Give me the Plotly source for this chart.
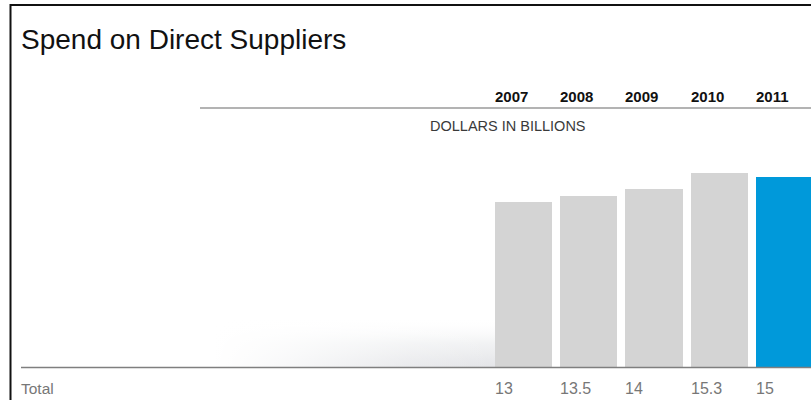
import plotly.graph_objects as go

# ---- data ----
years = ["2007", "2008", "2009", "2010", "2011"]
values = [13, 13.5, 14, 15.3, 15]
value_labels = ["13", "13.5", "14", "15.3", "15"]
bar_colors = ["#d4d4d4", "#d4d4d4", "#d4d4d4", "#d4d4d4", "#0099da"]
title_text = "Spend on Direct Suppliers"
unit_text = "DOLLARS IN BILLIONS"
row_label = "Total"

W, H = 811, 400
SANS = "Liberation Sans, Arial, sans-serif"

# geometry (pixels)
first_center = 523.5
step = 65.25
base_px = 367
px_per_unit = 12.7
bar_w = 0.874

fig = go.Figure()

# bars on the base axes
fig.add_trace(go.Bar(
    x=years, y=values, marker=dict(color=bar_colors, line=dict(width=0)),
    width=bar_w, showlegend=False, xaxis="x", yaxis="y",
    hovertemplate="%{x}: %{y}<extra></extra>"))

# decorative soft shadow (pixel-space overlay axes)
fig.add_trace(go.Scatter(
    x=[215, 495, 495, 215, 215], y=[318, 318, 367, 367, 318], mode="lines",
    line=dict(width=0), fill="toself",
    fillgradient=dict(type="vertical",
                      colorscale=[[0, "#e4e5e8"], [0.5, "#f2f3f4"], [1, "rgba(255,255,255,0)"]]),
    hoverinfo="skip", showlegend=False, xaxis="x2", yaxis="y2"))
fig.add_trace(go.Scatter(
    x=[214, 494, 494, 214, 214], y=[317, 317, 368, 368, 317], mode="lines",
    line=dict(width=0), fill="toself",
    fillgradient=dict(type="horizontal",
                      colorscale=[[0, "rgba(255,255,255,1)"], [0.25, "rgba(255,255,255,0.75)"],
                                  [0.7, "rgba(255,255,255,0.2)"], [1, "rgba(255,255,255,0)"]]),
    hoverinfo="skip", showlegend=False, xaxis="x2", yaxis="y2"))

n = len(years)
x_lo = -first_center / step
x_hi = (W - first_center) / step

fig.update_layout(
    width=W, height=H,
    margin=dict(l=0, r=0, t=0, b=0),
    paper_bgcolor="white", plot_bgcolor="white",
    xaxis=dict(type="category", range=[x_lo, x_hi], domain=[0, 1],
               visible=False, fixedrange=True),
    yaxis=dict(range=[0, base_px / px_per_unit], domain=[(H - base_px) / H, 1],
               visible=False, fixedrange=True),
    xaxis2=dict(range=[0, W], overlaying="x", visible=False, fixedrange=True),
    yaxis2=dict(range=[base_px, 0], overlaying="y", visible=False, fixedrange=True),
    bargap=0,
)

def px_x(p):
    return p / W

def px_y(p):
    return 1 - p / H

shapes = [
    # frame
    dict(type="line", xref="paper", yref="paper", x0=px_x(10), x1=1.01,
         y0=px_y(5), y1=px_y(5), line=dict(color="#111", width=2)),
    dict(type="line", xref="paper", yref="paper", x0=px_x(10.5), x1=px_x(10.5),
         y0=px_y(4), y1=-0.01, line=dict(color="#111", width=2)),
    # header rule
    dict(type="line", xref="paper", yref="paper", x0=px_x(200), x1=1.01,
         y0=px_y(108), y1=px_y(108), line=dict(color="#9a9a9a", width=1.3)),
    # baseline
    dict(type="line", xref="paper", yref="paper", x0=px_x(21), x1=1.01,
         y0=px_y(367.5), y1=px_y(367.5), line=dict(color="#7f7f7f", width=1.5),
         layer="above"),
]

ann = [
    dict(text=title_text, xref="paper", yref="paper", x=px_x(19), y=px_y(39),
         xanchor="left", yanchor="middle", showarrow=False,
         font=dict(family=SANS, size=28, color="#111")),
    dict(text=unit_text, xref="paper", yref="paper", x=px_x(428), y=px_y(126.5),
         xanchor="left", yanchor="middle", showarrow=False,
         font=dict(family=SANS, size=14.5, color="#3a3a3a")),
    dict(text=row_label, xref="paper", yref="paper", x=px_x(19), y=px_y(388),
         xanchor="left", yanchor="middle", showarrow=False,
         font=dict(family=SANS, size=15.5, color="#777")),
]
for i in range(n):
    ann.append(dict(text=years[i], xref="x", yref="paper", x=i - bar_w / 2,
                    y=px_y(96), xanchor="left", yanchor="middle", showarrow=False,
                    xshift=-2,
                    font=dict(family=SANS, size=15, color="#111", weight="bold")))
    ann.append(dict(text=value_labels[i], xref="x", yref="paper", x=i - bar_w / 2,
                    y=px_y(388), xanchor="left", yanchor="middle", showarrow=False,
                    xshift=-2,
                    font=dict(family=SANS, size=16, color="#777")))

fig.update_layout(shapes=shapes, annotations=ann)
fig.write_html("out.html")
